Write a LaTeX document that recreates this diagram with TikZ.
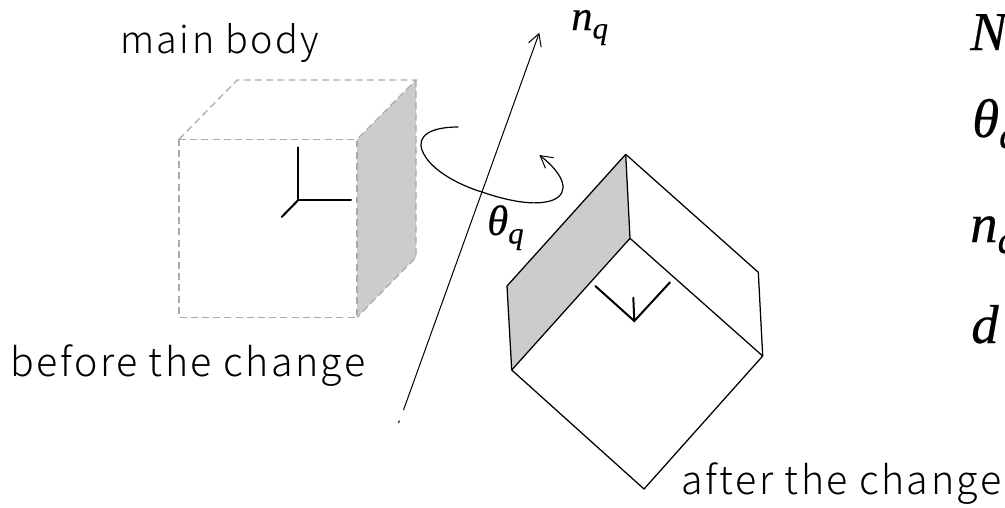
\documentclass[tikz,border=0pt]{standalone}
\usepackage{fontspec}
\setmainfont{Noto Sans CJK JP Light}[LetterSpace=6.5]
\newfontfamily\mathish{Liberation Serif}[FakeBold=0.4]
\usetikzlibrary{arrows.meta}
\definecolor{facegray}{RGB}{204,204,204}
\definecolor{dashgray}{RGB}{170,170,170}
\newcommand{\symb}[3]{{\fontsize{#1}{#1}\mathish\itshape #2\raisebox{-0.2em}{\fontsize{0.72\dimexpr#1\relax}{10pt}\selectfont #3}}}
\tikzset{
  px/.style={x=0.75pt,y=-0.75pt},
  dashedge/.style={draw=dashgray,line width=0.95pt,dash pattern=on 5.2pt off 3.2pt},
  solidedge/.style={draw=black,line width=0.95pt,line join=round},
  frameaxis/.style={draw=black,line width=1.5pt,line cap=round},
  thinline/.style={draw=black,line width=0.75pt},
  label/.style={inner sep=0pt,anchor=base west,font=\fontsize{29.5pt}{34pt}\selectfont},
  mathlabel/.style={inner sep=0pt,anchor=base west},
  opentip/.style={-{Straight Barb[length=9pt,width=10pt,line width=0.75pt]}}
}
\begin{document}
\begin{tikzpicture}[px]
\useasboundingbox (0,0) rectangle (1005,507);
\clip (0,0) rectangle (1005,507);
% left cube
\fill[facegray] (357,139.3) -- (416,80) -- (416,257.3) -- (357,317.3) -- cycle;
\draw[dashedge] (179,139.3) -- (357,139.3) -- (357,317.3) -- (179,317.3) -- cycle;
\draw[dashedge] (179,139.3) -- (237.3,80) -- (416,80) -- (357,139.3);
\draw[dashedge] (416,80) -- (416,257.3) -- (357,317.3);
\coordinate (oa) at (298,200.3);
\draw[frameaxis] (298,147.3) -- (oa) -- (351,200.3);
\draw[frameaxis] (oa) -- (281.7,217);
% right cube
\fill[facegray] (625.7,154.3) -- (630,238.3) -- (511.7,370) -- (507,286) -- cycle;
\draw[solidedge] (625.7,154.3) -- (507,286) -- (511.7,370) -- (644,489) -- (762.7,356) -- (758.3,272.3) -- cycle;
\draw[solidedge] (625.7,154.3) -- (630,238.3) -- (511.7,370);
\draw[solidedge] (630,238.3) -- (762.7,356);
\coordinate (ob) at (634.3,321);
\draw[frameaxis] (595.3,286) -- (ob) -- (670,282.3);
\draw[frameaxis] (ob) -- (633.3,297.7);
% rotation axis
\coordinate (axisfoot) at (403.5,410);
\coordinate (axishead) at (539.3,32.7);
\draw[thinline,opentip] (axisfoot) -- (axishead);
\coordinate (speckA) at (398.5,423);
\coordinate (speckB) at (399.5,420.5);
\draw[thinline] (speckA) -- (speckB);
% rotation arrow
\draw[thinline,line width=0.9pt,opentip] (458.3,127) .. controls (430,127) and (417,136) .. (422,150)
  .. controls (430,172) and (465,187) .. (482,192)
  .. controls (505,200) and (535,207) .. (553,200)
  .. controls (570,193) and (565,175) .. (539.3,155);
% labels
\node[label,font=\fontsize{28.3pt}{34pt}\selectfont] (mainbody) at (120,53) {main body};
\node[label] (before) at (10,376) {before the change};
\node[label] (after) at (681,494) {after the change};
\node[mathlabel] (nq) at (571,30) {\symb{32pt}{n}{q}};
\node[mathlabel] (tq) at (487,235) {\symb{32pt}{θ}{q}};
\node[mathlabel] (rN) at (970,50) {\symb{41pt}{N}{}};
\node[mathlabel] (rt) at (972,137) {\symb{41pt}{θ}{q}};
\node[mathlabel] (rn) at (970,242) {\symb{41pt}{n}{q}};
\node[mathlabel] (rd) at (971,343) {\symb{41pt}{d}{}};
\end{tikzpicture}
\end{document}
